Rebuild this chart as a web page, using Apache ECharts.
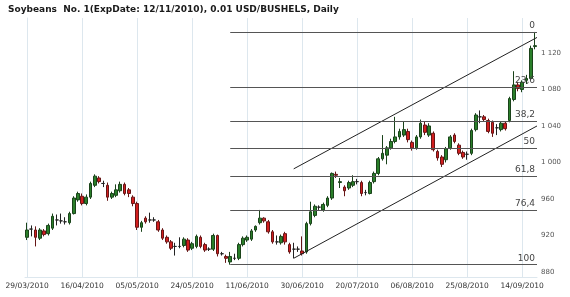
<!DOCTYPE html>
<html><head><meta charset="utf-8">
<script src="https://cdn.jsdelivr.net/npm/echarts@6/dist/echarts.min.js"></script>
<style>html,body{margin:0;padding:0;background:#fff}#c{width:570px;height:297px}</style>
</head><body><div id="c"></div>
<script>
const titleText = 'Soybeans  No. 1(ExpDate: 12/11/2010), 0.01 USD/BUSHELS, Daily';
const startDate = [2010, 3, 29];
const holidays = ['02/04/2010', '31/05/2010', '05/07/2010', '06/09/2010'];
// [open, close, low, high]
const candles = [
[918,926,915,934],[927,927,919,931],[926,918,908,930],[917,926,915,928],[925,921,919,927],
[922,931,920,933],[928,941,926,944],[937,937,931,943],[936,936,933,944],[935,935,932,940],
[934,944,932,946],[944,961,943,963],[959,966,957,968],[963,955,953,966],[955,962,953,965],
[962,977,960,979],[975,985,973,987],[983,979,977,985],[977,977,973,980],[975,962,958,978],
[962,966,960,968],[964,970,962,976],[969,976,967,979],[976,966,964,978],[970,966,962,972],
[962,955,952,964],[955,929,926,957],[929,934,924,936],[939,935,933,941],[937,937,934,945],
[937,937,935,940],[935,926,924,937],[926,917,915,928],[918,913,911,920],[913,906,904,915],
[908,908,898,912],[908,908,906,918],[909,916,907,918],[915,904,902,917],[906,911,904,913],
[908,919,906,921],[918,908,906,920],[910,904,902,912],[905,905,903,907],[905,920,903,922],
[920,900,897,921],[900,900,898,902],[897,895,890,899],[891,897,888,902],[895,895,893,900],
[895,910,893,912],[910,917,908,919],[915,918,913,920],[916,925,914,927],[926,930,924,931],
[934,939,932,948],[939,936,934,940],[935,924,922,937],[924,913,911,926],[913,913,910,920],
[912,919,910,921],[922,913,910,924],[910,902,900,912],[905,905,895,912],[905,905,902,908],
[903,900,898,919],[902,933,900,935],[933,946,931,957],[942,952,940,954],[951,951,948,953],
[948,954,946,956],[953,961,951,963],[961,988,959,989],[987,986,983,990],[978,979,972,983],
[973,969,963,975],[972,978,970,980],[975,979,973,986],[979,979,976,982],[978,966,963,980],
[967,967,964,970],[966,978,965,980],[979,988,977,990],[988,1004,986,1006],[1004,1010,1002,1030],
[1008,1016,998,1018],[1016,1023,1014,1026],[1023,1028,1021,1050],[1028,1034,1025,1037],[1030,1036,1028,1045],
[1034,1025,1022,1037],[1022,1016,1013,1024],[1016,1028,1014,1030],[1028,1043,1026,1047],[1041,1033,1030,1045],
[1030,1040,1028,1043],[1032,1014,1012,1034],[1012,1005,1002,1014],[1006,998,995,1008],[1003,1015,1000,1017],
[1016,1028,1014,1030],[1030,1023,1021,1032],[1019,1010,1008,1021],[1011,1006,1004,1013],[1009,1009,1003,1012],
[1010,1035,1008,1037],[1036,1052,1034,1054],[1050,1050,1043,1057],[1050,1047,1045,1052],[1046,1034,1032,1048],
[1044,1032,1028,1046],[1038,1038,1030,1042],[1036,1043,1034,1045],[1043,1037,1035,1045],[1046,1070,1044,1072],
[1069,1085,1067,1100],[1085,1081,1078,1088],[1080,1088,1077,1090],[1090,1092,1086,1096],[1092,1125,1090,1128],
[1127,1128,1124,1143]
];
const labelEvery = 13;
const yTicks = [880, 920, 960, 1000, 1040, 1080, 1120];
const fibRatios = [0, 23.6, 38.2, 50, 61.8, 76.4, 100];
const channelUpper = [[63, 993], [120.5, 1137]];
const channelLower = [[63, 895], [120.5, 1040]];

// trading-day labels
const pad = n => (n < 10 ? '0' : '') + n;
const dates = [];
{
  const d = new Date(startDate[0], startDate[1] - 1, startDate[2]);
  while (dates.length < candles.length) {
    const s = pad(d.getDate()) + '/' + pad(d.getMonth() + 1) + '/' + d.getFullYear();
    const wd = d.getDay();
    if (wd !== 0 && wd !== 6 && holidays.indexOf(s) < 0) dates.push(s);
    d.setDate(d.getDate() + 1);
  }
}
const xLabelIdx = [];
for (let i = 0; i < candles.length; i += labelEvery) xLabelIdx.push(i);

const hi = Math.max(...candles.map(c => c[3]));
const lo = Math.min(...candles.map(c => c[2]));
const loIdx = candles.findIndex(c => c[2] === lo);
const xMax = candles.length - 0.5;
const fibData = fibRatios.map(r => {
  const v = hi - r / 100 * (hi - lo);
  return [{ name: String(r).replace('.', ','), coord: [loIdx, v] }, { coord: [xMax, v] }];
});

const fmtNum = v => v >= 1000 ? String(v).replace(/(\d)(\d{3})$/, '$1 $2') : String(v);
const lightLine = '#dde7ee';

const chart = echarts.init(document.getElementById('c'), null, { renderer: 'canvas' });
chart.setOption({
  animation: false,
  backgroundColor: '#fff',
  title: {
    text: titleText, left: 3, top: 0,
    textStyle: { fontFamily: 'DejaVu Sans', fontSize: 9, fontWeight: 'bold', color: '#1a1a1a' }
  },
  grid: { left: 25, right: 33, top: 18, bottom: 20, containLabel: false, outerBoundsMode: 'none' },
  xAxis: {
    type: 'value', min: -0.5, max: xMax,
    axisLine: { show: true, lineStyle: { color: lightLine } },
    axisTick: { show: false, customValues: xLabelIdx },
    axisLabel: {
      customValues: xLabelIdx, formatter: v => dates[Math.round(v)] || '',
      fontFamily: 'DejaVu Sans', fontSize: 7.5, color: '#333', margin: 5
    },
    splitLine: { show: true, lineStyle: { color: lightLine, width: 1 } }
  },
  yAxis: {
    type: 'value', position: 'right', min: 874.5, max: 1158.3, scale: true,
    axisLine: { show: true, lineStyle: { color: lightLine } },
    axisTick: { show: false },
    splitLine: { show: false },
    axisLabel: {
      customValues: yTicks, formatter: fmtNum,
      fontFamily: 'DejaVu Sans', fontSize: 7, color: '#555', margin: 4
    }
  },
  series: [
    {
      type: 'candlestick',
      data: candles.map((c, i) => [i, c[0], c[1], c[2], c[3]]),
      encode: { x: 0, y: [1, 2, 3, 4] },
      barWidth: '76%',
      itemStyle: {
        color: '#2a7f2a', color0: '#d21e1e',
        borderColor: '#1a431a', borderColor0: '#661616', borderColorDoji: '#222',
        borderWidth: 1
      },
      markLine: {
        silent: true, symbol: ['none', 'none'],
        lineStyle: { color: '#555', width: 1, type: 'solid' },
        label: {
          show: true, position: 'insideEndTop', formatter: '{b}', distance: 2,
          fontFamily: 'DejaVu Sans', fontSize: 9, color: '#444'
        },
        emphasis: { disabled: true },
        data: fibData
      },
      z: 3
    },
    {
      type: 'line', data: channelUpper, symbol: 'none', silent: true,
      lineStyle: { color: '#222', width: 1 }, z: 4
    },
    {
      type: 'line', data: channelLower, symbol: 'none', silent: true,
      lineStyle: { color: '#222', width: 1 }, z: 4
    }
  ]
});
</script></body></html>
